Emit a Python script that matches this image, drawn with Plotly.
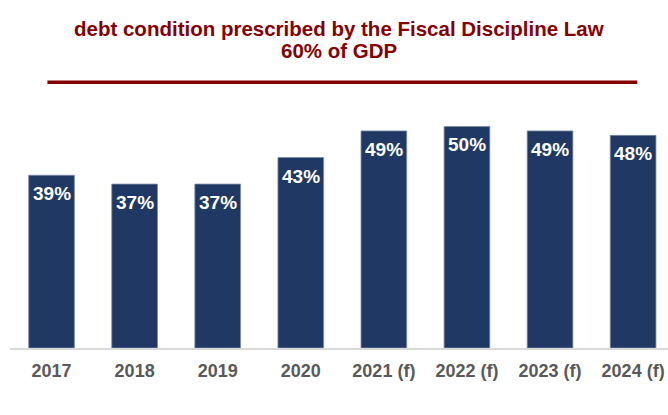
import plotly.graph_objects as go

years = ["2017", "2018", "2019", "2020", "2021 (f)", "2022 (f)", "2023 (f)", "2024 (f)"]
debt_pct = [39, 37, 37, 43, 49, 50, 49, 48]
labels = ["39%", "37%", "37%", "43%", "49%", "50%", "49%", "48%"]
limit_pct = 60
title_lines = ["debt condition prescribed by the Fiscal Discipline Law", "60% of GDP"]

BAR = "#1F3864"
RED = "#850000"
FONT = "Liberation Sans, Arial"

fig = go.Figure()
fig.add_trace(go.Bar(
    x=list(range(len(years))), y=debt_pct,
    marker=dict(color=BAR, line=dict(color="#7F8CA8", width=0.8)),
    width=0.55, hoverinfo="skip",
))

for i, (v, t) in enumerate(zip(debt_pct, labels)):
    fig.add_annotation(x=i, y=v, text=f"<b>{t}</b>", showarrow=False,
                       yanchor="top", yshift=-6,
                       font=dict(family=FONT, size=19, color="white"))

fig.add_shape(type="line", xref="x", yref="y", x0=-0.05, x1=7.05, y0=limit_pct, y1=limit_pct,
              line=dict(color=RED, width=3.5))

for line, ypix in zip(title_lines, [28, 51]):
    fig.add_annotation(xref="paper", yref="paper", x=0.5, xanchor="center", yanchor="middle",
                       y=1 + (70 - ypix) / 278,
                       text=f"<b>{line}</b>", showarrow=False,
                       font=dict(family=FONT, size=20.5, color=RED))

fig.update_layout(
    width=668, height=415,
    margin=dict(l=10, r=0, t=70, b=67),
    paper_bgcolor="white", plot_bgcolor="white",
    showlegend=False,
    xaxis=dict(
        tickmode="array", tickvals=list(range(len(years))),
        ticktext=[f"<b>{y}</b>" for y in years],
        range=[-0.5, 7.42],
        tickfont=dict(family=FONT, size=18, color="#595959"),
        ticklabeloverflow="allow",
        showgrid=False, zeroline=False,
        showline=True, linecolor="#D9D9D9", linewidth=1.5,
        ticks="outside", ticklen=6, tickcolor="rgba(0,0,0,0)",
    ),
    yaxis=dict(range=[0, 62.75], visible=False, showgrid=False, zeroline=False),
)

fig.write_html("out.html", config={"displayModeBar": False},
               post_script="document.body.style.margin='0';document.body.style.overflow='hidden';")
